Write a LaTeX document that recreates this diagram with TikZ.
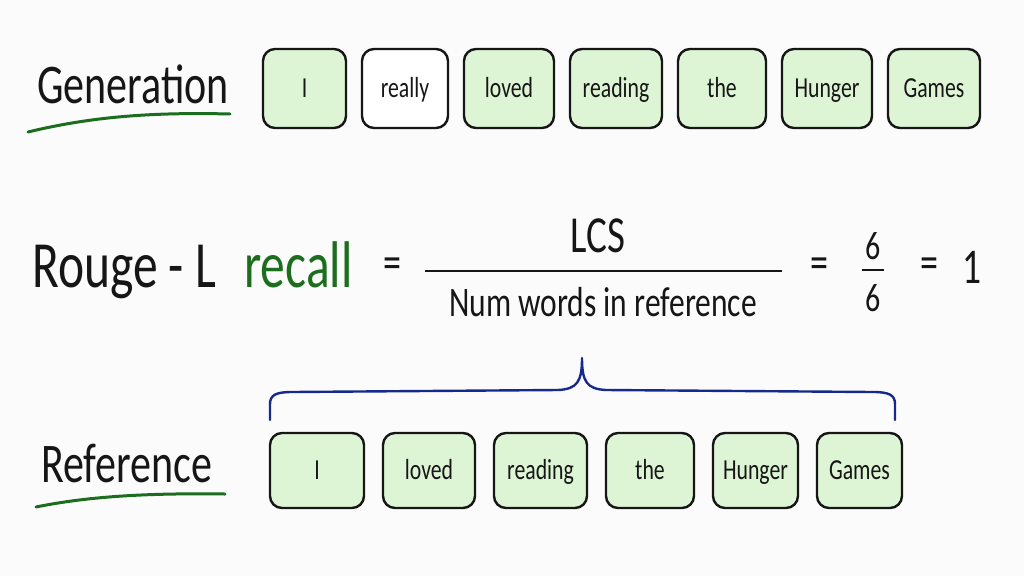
\documentclass[tikz,border=0pt]{standalone}
\usepackage{fontspec}
\setmainfont[FakeStretch=0.75]{Carlito}
\usetikzlibrary{chains,positioning}
\definecolor{boxgreen}{RGB}{222,245,213}
\definecolor{inkgreen}{RGB}{28,110,30}
\definecolor{inkblue}{RGB}{22,42,140}
\definecolor{ink}{RGB}{22,22,22}
\definecolor{paper}{RGB}{251,251,251}

\begin{document}
\begin{tikzpicture}[x=1pt,y=-1pt]
\tikzstyle{every path}=[line width=2.4pt,ink]
\edef\boxfont{\noexpand\fontsize{29}{31}\noexpand\selectfont}
\tikzstyle{wordbox}=[draw,fill=boxgreen,rounded corners=12pt,inner sep=0pt,
text height=18.5pt,text depth=0pt,font=\boxfont]
\tikzstyle{rowname}=[anchor=base west,inner sep=0pt,font=\fontsize{56}{60}\selectfont]
\tikzstyle{formula}=[anchor=base west,inner sep=0pt,font=\fontsize{66}{70}\selectfont]
\tikzstyle{op}=[inner sep=0pt,font=\fontsize{48}{50}\selectfont]
\tikzstyle{swoosh}=[inkgreen,line width=3pt,line cap=round]
\tikzstyle{brace}=[inkblue,line width=2.4pt,line cap=round,line join=round]
\useasboundingbox (0,0) rectangle (1024,576);
\fill[paper] (0,0) rectangle (1024,576);

\node [rowname] (gen) at (36,103) {Generation};
\draw [swoosh] (28,132) .. controls (90,117) and (150,112) .. (230,114);
\begin{scope}[start chain=gen going right,node distance=13.6pt,minimum height=79pt]
 \node [on chain=gen,wordbox,minimum width=83pt] at (304.5,88.5) (g1) {I};
 \node [on chain=gen,wordbox,minimum width=86pt,fill=white] (g2) {really};
 \node [on chain=gen,wordbox,minimum width=90pt] (g3) {loved};
 \node [on chain=gen,wordbox,minimum width=92pt] (g4) {reading};
 \node [on chain=gen,wordbox,minimum width=88pt] (g5) {the};
 \node [on chain=gen,wordbox,minimum width=90pt] (g6) {Hunger};
 \node [on chain=gen,wordbox,minimum width=92pt] (g7) {Games};
\end{scope}

\node [formula] (rouge) at (31,287) {Rouge - L};
\node [formula,inkgreen] (recall) at (243,287) {recall};
\node [op] (eq1) at (392,268) {=};
\node [formula,anchor=base,font=\fontsize{52}{56}\selectfont] (lcs) at (598,252) {LCS};
\coordinate (barL) at (425,271);
\coordinate (barR) at (782,271);
\draw (barL) -- (barR);
\node [formula,anchor=base,font=\fontsize{42}{46}\selectfont] (den) at (603,316) {Num words in reference};
\node [op] (eq2) at (819,268) {=};
\node [op,font=\fontsize{40}{44}\selectfont] (six1) at (873,246) {6};
\coordinate (sbarL) at (862,270);
\coordinate (sbarR) at (884,270);
\draw (sbarL) -- (sbarR);
\node [op,font=\fontsize{40}{44}\selectfont] (six2) at (873,298) {6};
\node [op] (eq3) at (929,268) {=};
\node [op,font=\fontsize{50}{54}\selectfont] (one) at (972,267) {1};

\coordinate (brL) at (270,420);
\coordinate (brR) at (895,420);
\coordinate (brTip) at (582,358);
\draw [brace] (brL) -- (270,404) .. controls (270,395) and (276,392) .. (292,392)
 -- (558,390) .. controls (577,389) and (582,382) .. (brTip)
 .. controls (582,382) and (587,389) .. (606,390) -- (873,392)
 .. controls (889,392) and (895,395) .. (895,404) -- (brR);

\node [rowname] (ref) at (40,482) {Reference};
\draw [swoosh] (36,507) .. controls (90,496) and (150,493) .. (225,494);
\begin{scope}[start chain=ref going right,node distance=16.6pt,minimum height=75pt]
 \node [on chain=ref,wordbox,minimum width=94pt] at (317,470.5) (r1) {I};
 \node [on chain=ref,wordbox,minimum width=92pt] (r2) {loved};
 \node [on chain=ref,wordbox,minimum width=93pt] (r3) {reading};
 \node [on chain=ref,wordbox,minimum width=88pt] (r4) {the};
 \node [on chain=ref,wordbox,minimum width=85pt] (r5) {Hunger};
 \node [on chain=ref,wordbox,minimum width=85pt] (r6) {Games};
\end{scope}
\end{tikzpicture}
\end{document}
